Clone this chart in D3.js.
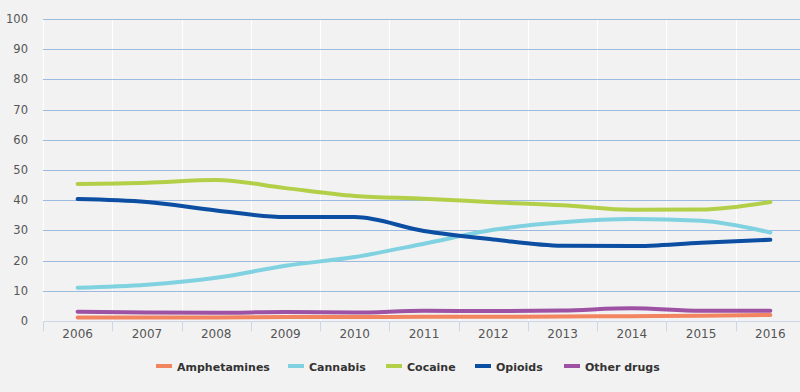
<!DOCTYPE html>
<meta charset="utf-8">
<style>
body { margin: 0; background: #f2f2f2; }
svg { display: block; font-family: "DejaVu Sans", Verdana, sans-serif; }
.ylab text { fill: #555; font-size: 11.5px; }
.legend text { fill: #333; font-size: 11px; font-weight: bold; }
</style>
<body>
<script src="https://cdn.jsdelivr.net/npm/d3@7"></script>
<script>
var years = ["2006","2007","2008","2009","2010","2011","2012","2013","2014","2015","2016"];
var yTicks = [0,10,20,30,40,50,60,70,80,90,100];

var amphetamines = [1.2,1.2,1.2,1.3,1.3,1.4,1.4,1.5,1.6,1.7,2.0];
var cannabis     = [11,12,14.3,18.3,21.2,25.6,30.2,32.7,33.8,33.2,29.3];
var cocaine      = [45.4,45.8,46.7,44,41.4,40.5,39.3,38.3,36.8,36.9,39.4];
var opioids      = [40.4,39.4,36.6,34.4,34.4,29.8,27,24.9,24.8,25.9,26.9];
var otherDrugs   = [3.1,2.8,2.7,3,2.8,3.4,3.3,3.5,4.2,3.4,3.4];

var series = [
  {name: "Amphetamines", color: "#f2845f", values: amphetamines},
  {name: "Cannabis", color: "#80d2e0", values: cannabis},
  {name: "Cocaine", color: "#b3cf48", values: cocaine},
  {name: "Opioids", color: "#0b4ea2", values: opioids},
  {name: "Other drugs", color: "#9d52a3", values: otherDrugs}
];

var width = 800, height = 392;
var plot = {left: 43, right: 805, top: 19, bottom: 321};

var svg = d3.select("body").append("svg")
    .attr("width", width)
    .attr("height", height);

var x = d3.scaleBand().domain(years).range([plot.left, plot.right]);
var y = d3.scaleLinear().domain([0, 100]).range([plot.bottom, plot.top]);

// vertical white grid at band edges
svg.append("g").selectAll("line")
    .data(years)
  .enter().append("line")
    .attr("x1", function(d) { return Math.round(x(d)) + 0.5; })
    .attr("x2", function(d) { return Math.round(x(d)) + 0.5; })
    .attr("y1", plot.top)
    .attr("y2", plot.bottom)
    .attr("stroke", "#fff")
    .attr("stroke-width", 1);

// horizontal grid
svg.append("g").selectAll("line")
    .data(yTicks.slice(1))
  .enter().append("line")
    .attr("x1", plot.left)
    .attr("x2", width)
    .attr("y1", function(d) { return Math.round(y(d)) + 0.5; })
    .attr("y2", function(d) { return Math.round(y(d)) + 0.5; })
    .attr("stroke", "#9dbbe0")
    .attr("stroke-width", 1);

// y labels
svg.append("g").attr("class", "ylab").selectAll("text")
    .data(yTicks)
  .enter().append("text")
    .attr("x", 28)
    .attr("y", function(d) { return y(d) + 4; })
    .attr("text-anchor", "end")
    .text(function(d) { return d; });

// x axis
var xAxis = d3.axisBottom(x).tickSize(0).tickPadding(10);
var gx = svg.append("g")
    .attr("transform", "translate(0," + (plot.bottom + 0.5) + ")")
    .call(xAxis);
gx.select(".domain").attr("stroke", "#ccd6eb").attr("d", "M" + plot.left + ",0H" + width);
gx.selectAll("text")
    .attr("fill", "#555")
    .style("font-size", "12px")
    .style("font-family", "\"DejaVu Sans\", Verdana, sans-serif")
    .attr("dy", "0.55em");
gx.selectAll(".edge")
    .data(years)
  .enter().append("line")
    .attr("class", "edge")
    .attr("x1", function(d) { return Math.round(x(d)) + 0.5; })
    .attr("x2", function(d) { return Math.round(x(d)) + 0.5; })
    .attr("y1", 0)
    .attr("y2", 10)
    .attr("stroke", "#ccd6eb");

var line = d3.line()
    .x(function(d, i) { return x(years[i]) + x.bandwidth() / 2; })
    .y(function(d) { return y(d); })
    .curve(d3.curveMonotoneX);

svg.append("g").selectAll("path")
    .data(series)
  .enter().append("path")
    .attr("fill", "none")
    .attr("stroke", function(d) { return d.color; })
    .attr("stroke-width", 4)
    .attr("stroke-linecap", "round")
    .attr("stroke-linejoin", "round")
    .attr("d", function(d) { return line(d.values); });

// legend
var legendX = [156, 288, 386, 475, 564];
var lg = svg.append("g").attr("class", "legend").selectAll("g")
    .data(series)
  .enter().append("g")
    .attr("transform", function(d, i) { return "translate(" + legendX[i] + ",366)"; });
lg.append("line")
    .attr("x1", 0).attr("x2", 16)
    .attr("stroke", function(d) { return d.color; })
    .attr("stroke-width", 4);
lg.append("text")
    .attr("x", 21)
    .attr("y", 4.5)
    .text(function(d) { return d.name; });
</script>
</body>
